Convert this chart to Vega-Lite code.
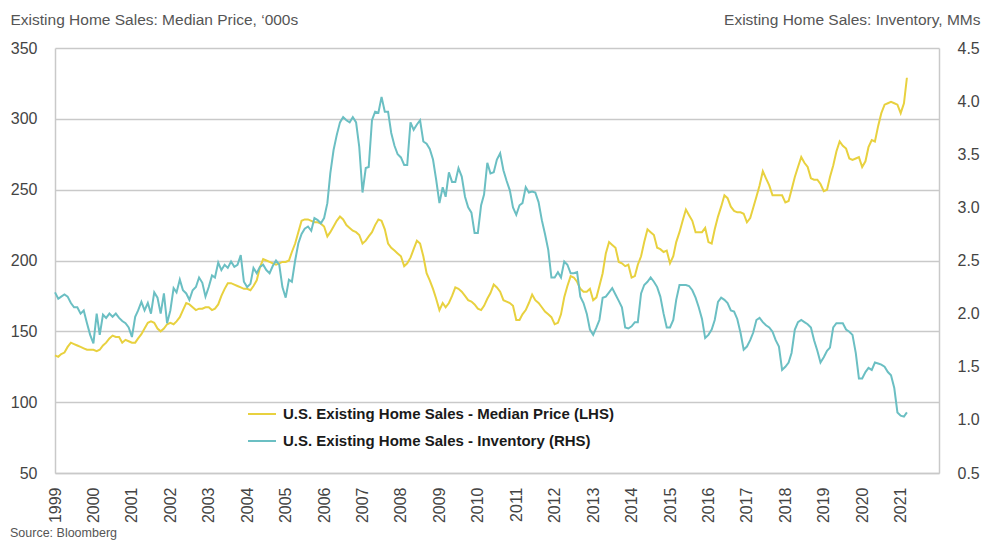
{
  "$schema": "https://vega.github.io/schema/vega-lite/v6.json",
  "width": 884,
  "height": 425,
  "autosize": {"type": "none"},
  "padding": {"left": 55, "top": 48, "right": 56, "bottom": 78},
  "background": "white",
  "config": {
    "view": {"stroke": null},
    "font": "Liberation Sans, Arial, sans-serif"
  },
  "title": {"text": "Source: Bloomberg", "orient": "bottom", "anchor": "start", "frame": "bounds", "fontSize": 12.5, "fontWeight": "normal", "color": "#555555", "offset": 4},
  "data": {"values": [
{"date":"1999-01","price":133,"inventory":2.20},{"date":"1999-02","price":132,"inventory":2.14},{"date":"1999-03","price":134,"inventory":2.16},{"date":"1999-04","price":135,"inventory":2.18},{"date":"1999-05","price":139,"inventory":2.16},{"date":"1999-06","price":142,"inventory":2.10},{"date":"1999-07","price":141,"inventory":2.06},{"date":"1999-08","price":140,"inventory":2.06},{"date":"1999-09","price":139,"inventory":2.00},{"date":"1999-10","price":138,"inventory":2.03},{"date":"1999-11","price":137,"inventory":1.91},{"date":"1999-12","price":137,"inventory":1.80},
{"date":"2000-01","price":137,"inventory":1.72},{"date":"2000-02","price":136,"inventory":2.00},{"date":"2000-03","price":137,"inventory":1.80},{"date":"2000-04","price":140,"inventory":1.99},{"date":"2000-05","price":142,"inventory":1.96},{"date":"2000-06","price":145,"inventory":2.00},{"date":"2000-07","price":147,"inventory":1.97},{"date":"2000-08","price":146,"inventory":2.00},{"date":"2000-09","price":146,"inventory":1.96},{"date":"2000-10","price":142,"inventory":1.93},{"date":"2000-11","price":144,"inventory":1.91},{"date":"2000-12","price":143,"inventory":1.87},
{"date":"2001-01","price":142,"inventory":1.78},{"date":"2001-02","price":142,"inventory":1.97},{"date":"2001-03","price":145,"inventory":2.03},{"date":"2001-04","price":148,"inventory":2.11},{"date":"2001-05","price":152,"inventory":2.03},{"date":"2001-06","price":156,"inventory":2.10},{"date":"2001-07","price":157,"inventory":2.00},{"date":"2001-08","price":156,"inventory":2.20},{"date":"2001-09","price":152,"inventory":2.15},{"date":"2001-10","price":150,"inventory":2.00},{"date":"2001-11","price":152,"inventory":2.19},{"date":"2001-12","price":155,"inventory":1.91},
{"date":"2002-01","price":156,"inventory":2.03},{"date":"2002-02","price":155,"inventory":2.24},{"date":"2002-03","price":157,"inventory":2.20},{"date":"2002-04","price":160,"inventory":2.32},{"date":"2002-05","price":165,"inventory":2.22},{"date":"2002-06","price":170,"inventory":2.19},{"date":"2002-07","price":169,"inventory":2.13},{"date":"2002-08","price":167,"inventory":2.22},{"date":"2002-09","price":165,"inventory":2.25},{"date":"2002-10","price":166,"inventory":2.34},{"date":"2002-11","price":166,"inventory":2.29},{"date":"2002-12","price":167,"inventory":2.16},
{"date":"2003-01","price":167,"inventory":2.25},{"date":"2003-02","price":165,"inventory":2.36},{"date":"2003-03","price":166,"inventory":2.34},{"date":"2003-04","price":169,"inventory":2.48},{"date":"2003-05","price":175,"inventory":2.41},{"date":"2003-06","price":180,"inventory":2.46},{"date":"2003-07","price":184,"inventory":2.43},{"date":"2003-08","price":184,"inventory":2.49},{"date":"2003-09","price":183,"inventory":2.44},{"date":"2003-10","price":182,"inventory":2.46},{"date":"2003-11","price":181,"inventory":2.55},{"date":"2003-12","price":180,"inventory":2.30},
{"date":"2004-01","price":180,"inventory":2.25},{"date":"2004-02","price":179,"inventory":2.28},{"date":"2004-03","price":182,"inventory":2.43},{"date":"2004-04","price":186,"inventory":2.38},{"date":"2004-05","price":195,"inventory":2.44},{"date":"2004-06","price":201,"inventory":2.46},{"date":"2004-07","price":200,"inventory":2.41},{"date":"2004-08","price":199,"inventory":2.38},{"date":"2004-09","price":198,"inventory":2.45},{"date":"2004-10","price":197,"inventory":2.50},{"date":"2004-11","price":198,"inventory":2.46},{"date":"2004-12","price":199,"inventory":2.25},
{"date":"2005-01","price":199,"inventory":2.15},{"date":"2005-02","price":200,"inventory":2.32},{"date":"2005-03","price":206,"inventory":2.30},{"date":"2005-04","price":212,"inventory":2.50},{"date":"2005-05","price":220,"inventory":2.66},{"date":"2005-06","price":228,"inventory":2.75},{"date":"2005-07","price":229,"inventory":2.80},{"date":"2005-08","price":229,"inventory":2.82},{"date":"2005-09","price":228,"inventory":2.78},{"date":"2005-10","price":227,"inventory":2.90},{"date":"2005-11","price":227,"inventory":2.88},{"date":"2005-12","price":226,"inventory":2.85},
{"date":"2006-01","price":224,"inventory":2.90},{"date":"2006-02","price":217,"inventory":3.04},{"date":"2006-03","price":220,"inventory":3.32},{"date":"2006-04","price":224,"inventory":3.54},{"date":"2006-05","price":228,"inventory":3.68},{"date":"2006-06","price":231,"inventory":3.80},{"date":"2006-07","price":229,"inventory":3.85},{"date":"2006-08","price":225,"inventory":3.82},{"date":"2006-09","price":223,"inventory":3.80},{"date":"2006-10","price":221,"inventory":3.85},{"date":"2006-11","price":220,"inventory":3.80},{"date":"2006-12","price":218,"inventory":3.57},
{"date":"2007-01","price":212,"inventory":3.14},{"date":"2007-02","price":214,"inventory":3.37},{"date":"2007-03","price":217,"inventory":3.38},{"date":"2007-04","price":220,"inventory":3.82},{"date":"2007-05","price":225,"inventory":3.90},{"date":"2007-06","price":229,"inventory":3.89},{"date":"2007-07","price":228,"inventory":4.04},{"date":"2007-08","price":222,"inventory":3.90},{"date":"2007-09","price":212,"inventory":3.90},{"date":"2007-10","price":209,"inventory":3.70},{"date":"2007-11","price":207,"inventory":3.58},{"date":"2007-12","price":205,"inventory":3.50},
{"date":"2008-01","price":203,"inventory":3.47},{"date":"2008-02","price":196,"inventory":3.40},{"date":"2008-03","price":198,"inventory":3.40},{"date":"2008-04","price":202,"inventory":3.80},{"date":"2008-05","price":208,"inventory":3.73},{"date":"2008-06","price":214,"inventory":3.78},{"date":"2008-07","price":212,"inventory":3.82},{"date":"2008-08","price":203,"inventory":3.62},{"date":"2008-09","price":191,"inventory":3.60},{"date":"2008-10","price":186,"inventory":3.55},{"date":"2008-11","price":180,"inventory":3.45},{"date":"2008-12","price":173,"inventory":3.26},
{"date":"2009-01","price":165,"inventory":3.04},{"date":"2009-02","price":170,"inventory":3.19},{"date":"2009-03","price":167,"inventory":3.10},{"date":"2009-04","price":170,"inventory":3.33},{"date":"2009-05","price":175,"inventory":3.24},{"date":"2009-06","price":181,"inventory":3.24},{"date":"2009-07","price":180,"inventory":3.37},{"date":"2009-08","price":178,"inventory":3.29},{"date":"2009-09","price":175,"inventory":3.10},{"date":"2009-10","price":172,"inventory":3.00},{"date":"2009-11","price":171,"inventory":2.95},{"date":"2009-12","price":169,"inventory":2.76},
{"date":"2010-01","price":166,"inventory":2.76},{"date":"2010-02","price":165,"inventory":3.02},{"date":"2010-03","price":168,"inventory":3.12},{"date":"2010-04","price":173,"inventory":3.42},{"date":"2010-05","price":177,"inventory":3.32},{"date":"2010-06","price":183,"inventory":3.33},{"date":"2010-07","price":181,"inventory":3.45},{"date":"2010-08","price":178,"inventory":3.51},{"date":"2010-09","price":172,"inventory":3.35},{"date":"2010-10","price":171,"inventory":3.25},{"date":"2010-11","price":170,"inventory":3.16},{"date":"2010-12","price":168,"inventory":3.00},
{"date":"2011-01","price":158,"inventory":2.93},{"date":"2011-02","price":158,"inventory":3.02},{"date":"2011-03","price":162,"inventory":3.04},{"date":"2011-04","price":165,"inventory":3.19},{"date":"2011-05","price":170,"inventory":3.14},{"date":"2011-06","price":176,"inventory":3.15},{"date":"2011-07","price":172,"inventory":3.14},{"date":"2011-08","price":170,"inventory":3.05},{"date":"2011-09","price":167,"inventory":2.88},{"date":"2011-10","price":164,"inventory":2.75},{"date":"2011-11","price":162,"inventory":2.60},{"date":"2011-12","price":160,"inventory":2.34},
{"date":"2012-01","price":155,"inventory":2.34},{"date":"2012-02","price":156,"inventory":2.39},{"date":"2012-03","price":162,"inventory":2.34},{"date":"2012-04","price":174,"inventory":2.49},{"date":"2012-05","price":182,"inventory":2.46},{"date":"2012-06","price":189,"inventory":2.38},{"date":"2012-07","price":188,"inventory":2.38},{"date":"2012-08","price":185,"inventory":2.39},{"date":"2012-09","price":180,"inventory":2.16},{"date":"2012-10","price":178,"inventory":2.10},{"date":"2012-11","price":178,"inventory":2.00},{"date":"2012-12","price":180,"inventory":1.85},
{"date":"2013-01","price":172,"inventory":1.80},{"date":"2013-02","price":174,"inventory":1.87},{"date":"2013-03","price":182,"inventory":1.94},{"date":"2013-04","price":191,"inventory":2.15},{"date":"2013-05","price":205,"inventory":2.16},{"date":"2013-06","price":213,"inventory":2.20},{"date":"2013-07","price":211,"inventory":2.24},{"date":"2013-08","price":209,"inventory":2.18},{"date":"2013-09","price":199,"inventory":2.12},{"date":"2013-10","price":198,"inventory":2.06},{"date":"2013-11","price":196,"inventory":1.87},{"date":"2013-12","price":197,"inventory":1.86},
{"date":"2014-01","price":188,"inventory":1.88},{"date":"2014-02","price":189,"inventory":1.92},{"date":"2014-03","price":197,"inventory":1.92},{"date":"2014-04","price":203,"inventory":2.19},{"date":"2014-05","price":213,"inventory":2.27},{"date":"2014-06","price":222,"inventory":2.30},{"date":"2014-07","price":220,"inventory":2.34},{"date":"2014-08","price":218,"inventory":2.30},{"date":"2014-09","price":209,"inventory":2.25},{"date":"2014-10","price":208,"inventory":2.16},{"date":"2014-11","price":206,"inventory":2.00},{"date":"2014-12","price":207,"inventory":1.87},
{"date":"2015-01","price":198,"inventory":1.87},{"date":"2015-02","price":203,"inventory":1.94},{"date":"2015-03","price":213,"inventory":2.13},{"date":"2015-04","price":220,"inventory":2.27},{"date":"2015-05","price":228,"inventory":2.27},{"date":"2015-06","price":236,"inventory":2.27},{"date":"2015-07","price":232,"inventory":2.26},{"date":"2015-08","price":228,"inventory":2.22},{"date":"2015-09","price":220,"inventory":2.15},{"date":"2015-10","price":220,"inventory":2.06},{"date":"2015-11","price":220,"inventory":1.95},{"date":"2015-12","price":223,"inventory":1.77},
{"date":"2016-01","price":213,"inventory":1.80},{"date":"2016-02","price":212,"inventory":1.85},{"date":"2016-03","price":222,"inventory":1.94},{"date":"2016-04","price":231,"inventory":2.11},{"date":"2016-05","price":238,"inventory":2.15},{"date":"2016-06","price":246,"inventory":2.13},{"date":"2016-07","price":244,"inventory":2.10},{"date":"2016-08","price":238,"inventory":2.03},{"date":"2016-09","price":235,"inventory":2.02},{"date":"2016-10","price":234,"inventory":1.95},{"date":"2016-11","price":234,"inventory":1.82},{"date":"2016-12","price":233,"inventory":1.66},
{"date":"2017-01","price":227,"inventory":1.69},{"date":"2017-02","price":230,"inventory":1.75},{"date":"2017-03","price":237,"inventory":1.82},{"date":"2017-04","price":245,"inventory":1.94},{"date":"2017-05","price":253,"inventory":1.96},{"date":"2017-06","price":263,"inventory":1.92},{"date":"2017-07","price":258,"inventory":1.89},{"date":"2017-08","price":253,"inventory":1.87},{"date":"2017-09","price":246,"inventory":1.83},{"date":"2017-10","price":246,"inventory":1.75},{"date":"2017-11","price":246,"inventory":1.69},{"date":"2017-12","price":246,"inventory":1.47},
{"date":"2018-01","price":241,"inventory":1.50},{"date":"2018-02","price":242,"inventory":1.54},{"date":"2018-03","price":250,"inventory":1.63},{"date":"2018-04","price":259,"inventory":1.85},{"date":"2018-05","price":266,"inventory":1.92},{"date":"2018-06","price":273,"inventory":1.94},{"date":"2018-07","price":269,"inventory":1.92},{"date":"2018-08","price":266,"inventory":1.90},{"date":"2018-09","price":258,"inventory":1.87},{"date":"2018-10","price":257,"inventory":1.75},{"date":"2018-11","price":257,"inventory":1.65},{"date":"2018-12","price":254,"inventory":1.54},
{"date":"2019-01","price":249,"inventory":1.59},{"date":"2019-02","price":250,"inventory":1.65},{"date":"2019-03","price":259,"inventory":1.68},{"date":"2019-04","price":267,"inventory":1.87},{"date":"2019-05","price":277,"inventory":1.91},{"date":"2019-06","price":284,"inventory":1.91},{"date":"2019-07","price":281,"inventory":1.91},{"date":"2019-08","price":279,"inventory":1.85},{"date":"2019-09","price":272,"inventory":1.83},{"date":"2019-10","price":271,"inventory":1.80},{"date":"2019-11","price":272,"inventory":1.63},{"date":"2019-12","price":273,"inventory":1.39},
{"date":"2020-01","price":266,"inventory":1.39},{"date":"2020-02","price":270,"inventory":1.45},{"date":"2020-03","price":280,"inventory":1.49},{"date":"2020-04","price":285,"inventory":1.47},{"date":"2020-05","price":284,"inventory":1.54},{"date":"2020-06","price":295,"inventory":1.53},{"date":"2020-07","price":304,"inventory":1.52},{"date":"2020-08","price":310,"inventory":1.50},{"date":"2020-09","price":311,"inventory":1.45},{"date":"2020-10","price":312,"inventory":1.42},{"date":"2020-11","price":311,"inventory":1.30},{"date":"2020-12","price":310,"inventory":1.07},
{"date":"2021-01","price":304,"inventory":1.04},{"date":"2021-02","price":311,"inventory":1.03},{"date":"2021-03","price":329,"inventory":1.07}
  ]},
  "encoding": {
    "x": {
      "field": "date", "type": "temporal",
      "scale": {"domain": [{"year": 1999, "month": 1, "date": 1}, {"year": 2021, "month": 12, "date": 31}]},
      "axis": {
        "title": null, "format": "%Y", "labelAngle": 270, "labelFontSize": 16, "labelColor": "#444444", "labelPadding": 14,
        "ticks": false, "domainColor": "#c9c9c9", "domainWidth": 1.5, "grid": false
      }
    }
  },
  "layer": [
    {
      "mark": {"type": "line", "strokeWidth": 2},
      "encoding": {
        "y": {
          "field": "price", "type": "quantitative",
          "scale": {"domain": [50, 350], "nice": false, "zero": false},
          "axis": {
            "orient": "left", "values": [50, 100, 150, 200, 250, 300, 350],
            "title": "Existing Home Sales: Median Price, ‘000s", "titleAngle": 0, "titleAlign": "left", "titleBaseline": "alphabetic",
            "titleX": -45, "titleY": -24, "titleFontSize": 15.5, "titleFontWeight": "normal", "titleColor": "#555555",
            "ticks": false, "labelPadding": 18, "labelFontSize": 16, "labelColor": "#444444",
            "grid": true, "gridColor": "#c9c9c9", "gridWidth": 1.5,
            "domainColor": "#c9c9c9", "domainWidth": 1.5
          }
        },
        "color": {
          "datum": "U.S. Existing Home Sales - Median Price (LHS)", "type": "nominal",
          "scale": {"domain": ["U.S. Existing Home Sales - Median Price (LHS)", "U.S. Existing Home Sales - Inventory (RHS)"], "range": ["#e8d13f", "#6bbfc3"]},
          "legend": {
            "orient": "none", "legendX": 192, "legendY": 351, "direction": "vertical", "title": null, "padding": 0,
            "symbolType": "stroke", "symbolSize": 784, "symbolStrokeWidth": 2,
            "labelFont": "Liberation Sans, Arial, sans-serif", "labelFontSize": 15, "labelFontWeight": "bold", "labelColor": "#1a1a1a",
            "rowPadding": 4, "labelOffset": 6, "labelLimit": 500
          }
        }
      }
    },
    {
      "mark": {"type": "line", "strokeWidth": 2},
      "encoding": {
        "y": {
          "field": "inventory", "type": "quantitative",
          "scale": {"domain": [0.5, 4.5], "nice": false, "zero": false},
          "axis": {
            "orient": "right", "values": [0.5, 1, 1.5, 2, 2.5, 3, 3.5, 4, 4.5], "format": ".1f",
            "title": "Existing Home Sales: Inventory, MMs", "titleAngle": 0, "titleAlign": "right", "titleBaseline": "alphabetic",
            "titleX": 41, "titleY": -24, "titleFontSize": 15.5, "titleFontWeight": "normal", "titleColor": "#555555",
            "ticks": false, "labelPadding": 18, "labelFontSize": 16, "labelColor": "#444444",
            "grid": false, "domainColor": "#c9c9c9", "domainWidth": 1.5
          }
        },
        "color": {
          "datum": "U.S. Existing Home Sales - Inventory (RHS)", "type": "nominal",
          "scale": {"domain": ["U.S. Existing Home Sales - Median Price (LHS)", "U.S. Existing Home Sales - Inventory (RHS)"], "range": ["#e8d13f", "#6bbfc3"]}
        }
      }
    }
  ],
  "resolve": {"scale": {"y": "independent"}}
}
